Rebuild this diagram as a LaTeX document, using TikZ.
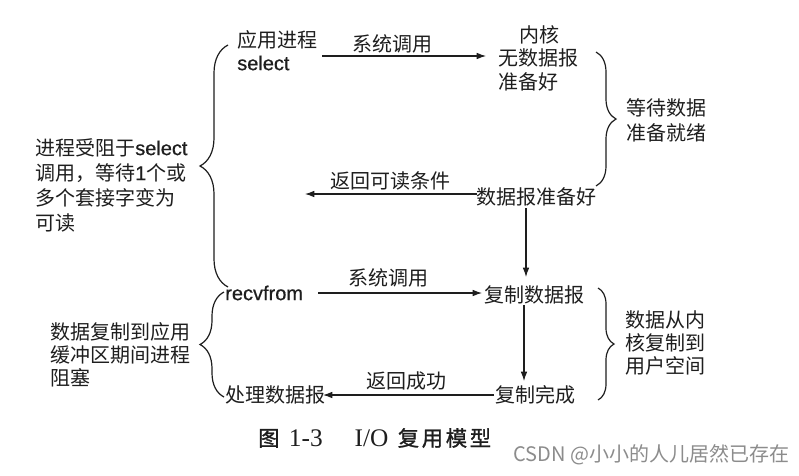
\documentclass[tikz,border=0pt]{standalone}
\usepackage{fontspec}
\setmainfont{Noto Sans CJK SC}
\newfontfamily\lat[FakeBold=0.6]{Liberation Sans}
\newfontfamily\capserif{Liberation Serif}
\newfontfamily\capcjk[FakeBold=1.2]{Noto Sans CJK SC}
\usetikzlibrary{arrows.meta,decorations.pathreplacing}
\definecolor{ink}{HTML}{1E1E1E}
\definecolor{wm}{HTML}{8C8C8C}
\tikzset{
  txt/.style={inner sep=0pt, anchor=west, font=\fontsize{15}{18}\selectfont, text=ink},
  multi/.style={txt, align=left, font=\fontsize{15}{#1}\selectfont},
  arr/.style={draw=ink, line width=0.8pt, -{Latex[length=7pt,width=5pt]}},
  brc/.style={draw=ink, line width=0.9pt, decorate, decoration={brace, amplitude=#1}},
}
\begin{document}
\begin{tikzpicture}[x=0.75pt,y=-0.75pt]
\useasboundingbox[fill=white] (0,0) rectangle (799,475);

% top row
\node[txt] (app) at (237,40) {应用进程};
\node[txt] (sel) at (237,63) {\lat select};
\node[txt,anchor=center] (kern) at (539,35) {内核};
\node[txt] (nodata) at (498,58) {无数据报};
\node[txt] (notready) at (498,82) {准备好};
\node[txt] (lbl1) at (352,44) {系统调用};

\coordinate (t1s) at (322,56);
\coordinate (t1e) at (486,56);
\draw[arr] (t1s) -- (t1e);

% wait brace
\coordinate (b1a) at (596,52);
\coordinate (b1b) at (596,186);
\draw[brc=15pt] (b1a) -- (b1b);
\node[multi=18.75] (wait) at (626,120.5) {等待数据\\准备就绪};

% ready
\node[txt] (ready) at (476,197) {数据报准备好};
\node[txt] (lbl2) at (330,181) {返回可读条件};
\coordinate (r1s) at (477,194);
\coordinate (r1e) at (305,194);
\draw[arr] (r1s) -- (r1e);

\coordinate (v1s) at (526,208);
\coordinate (v1e) at (526,277);
\draw[arr] (v1s) -- (v1e);

% big left brace
\coordinate (b2a) at (228,287);
\coordinate (b2b) at (228,45);
\draw[brc=21pt] (b2a) -- (b2b);
\node[multi=18.75] (blocked) at (35,185) {进程受阻于{\lat select}\\调用，等待{\lat 1}个或\\多个套接字变为\\可读};

% recvfrom row
\node[txt] (recv) at (225,293) {\lat recvfrom};
\node[txt] (lbl3) at (348,278) {系统调用};
\coordinate (t2s) at (318,293);
\coordinate (t2e) at (482,293);
\draw[arr] (t2s) -- (t2e);
\node[txt] (copy) at (484,295) {复制数据报};

\coordinate (v2s) at (524,305);
\coordinate (v2e) at (524,381);
\draw[arr] (v2s) -- (v2e);

\node[txt] (done) at (495,395) {复制完成};
\node[txt] (proc) at (225,395) {处理数据报};
\node[txt] (lbl4) at (366,381) {返回成功};
\coordinate (r2s) at (494,395);
\coordinate (r2e) at (323,395);
\draw[arr] (r2s) -- (r2e);

% lower left brace
\coordinate (b3a) at (224,397);
\coordinate (b3b) at (224,292);
\draw[brc=18pt] (b3a) -- (b3b);
\node[multi=17.25] (copyblock) at (50,355) {数据复制到应用\\缓冲区期间进程\\阻塞};

% lower right brace
\coordinate (b4a) at (598,288);
\coordinate (b4b) at (598,400);
\draw[brc=12pt] (b4a) -- (b4b);
\node[multi=17.25] (tousr) at (625,343) {数据从内\\核复制到\\用户空间};

% caption
\node[txt, font=\fontsize{16}{18}\selectfont] (cap) at (258,438)
  {{\capcjk 图}\hspace{7pt}{\capserif\fontsize{19}{20}\selectfont 1-3}\hspace{24pt}{\capserif\fontsize{19}{20}\selectfont I/O}\hspace{7pt}{\capcjk 复\hspace{2pt}用\hspace{2pt}模\hspace{2pt}型}};

% watermark
\node[txt, text=wm] (wmk) at (513,455) {CSDN @小小的人儿居然已存在};
\end{tikzpicture}
\end{document}
